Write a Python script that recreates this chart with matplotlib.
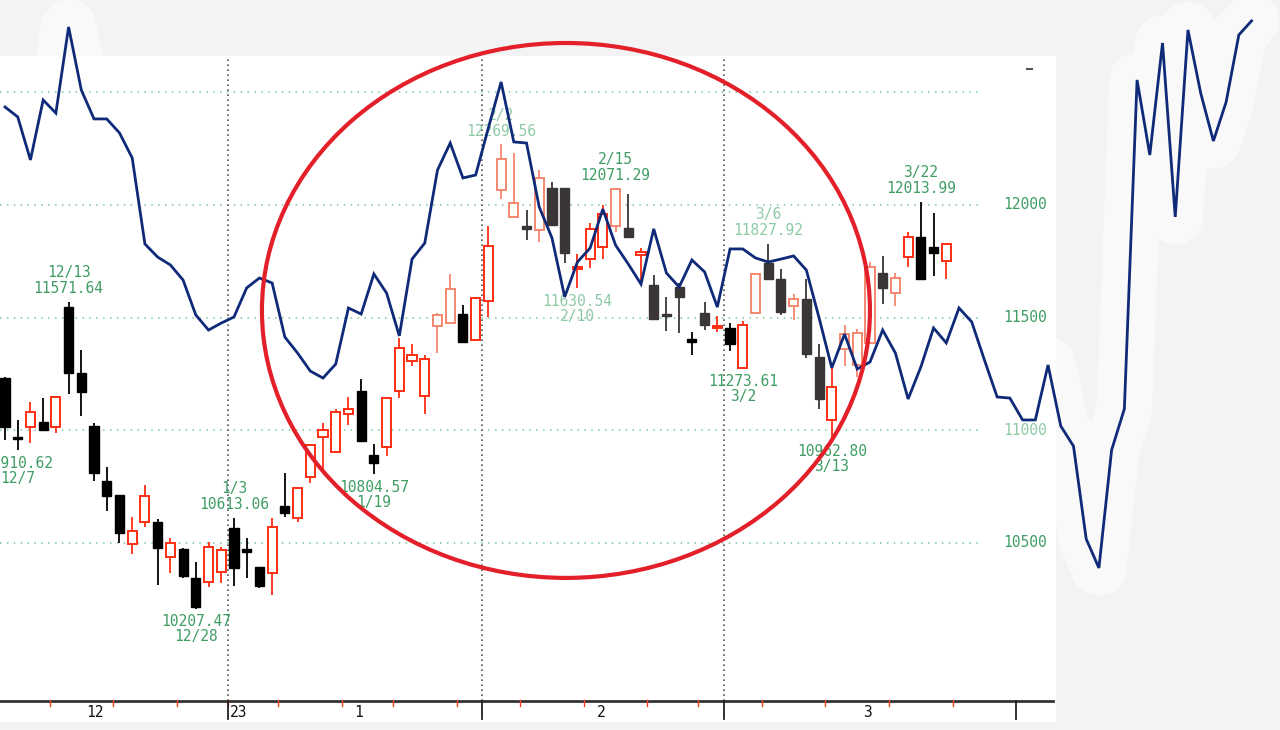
import numpy as np
import matplotlib.pyplot as plt
from matplotlib.patches import Rectangle, Ellipse

# Candles (daily OHLC), index 0 = first visible day in December
opens = [11232, 10970, 11015, 11037, 11015, 11547, 11254, 11019, 10775, 10713,
         10496, 10593, 10593, 10438, 10473, 10345, 10327, 10371, 10567, 10473,
         10394, 10367, 10664, 10611, 10793, 10970, 10904, 11073, 11175, 10891,
         10926, 11175, 11308, 11152, 11463, 11476, 11516, 11401, 11574, 12067,
         11947, 11907, 11889, 12076, 12076, 11716, 11760, 11814, 11907, 11898,
         11778, 11645, 11516, 11636, 11405, 11521, 11454, 11454, 11277, 11521,
         11743, 11672, 11552, 11583, 11326, 11046, 11361, 11290, 11388, 11698,
         11610, 11769, 11858, 11814, 11752]
highs = [11237, 11046, 11126, 11144, 11148, 11571.64, 11357, 11033, 10837, 10713,
         10615, 10757, 10607, 10522, 10478, 10416, 10504, 10482, 10613.06, 10522,
         10394, 10611, 10811, 10744, 10935, 11033, 11095, 11148, 11228, 10939,
         11148, 11410, 11383, 11334, 11521, 11694, 11556, 11587, 11907, 12269.56,
         12231, 11978, 12155, 12102, 12076, 11783, 11920, 12000, 12071.29, 12049,
         11809, 11689, 11592, 11654, 11436, 11570, 11507, 11476, 11485, 11694,
         11827.92, 11716, 11605, 11672, 11383, 11277, 11467, 11450, 11747, 11774,
         11698, 11880, 12013.99, 11965, 11831]
lows = [10957, 10910.62, 10944, 11000, 10988, 11161, 11064, 10775, 10642, 10500,
        10451, 10571, 10314, 10367, 10345, 10207.47, 10305, 10322, 10309, 10345,
        10300, 10269, 10615, 10593, 10766, 10824, 10899, 11024, 10953, 10804.57,
        10886, 11144, 11286, 11073, 11343, 11476, 11392, 11401, 11503, 12027,
        11947, 11845, 11836, 11911, 11743, 11630.54, 11720, 11760, 11880, 11858,
        11658, 11494, 11441, 11432, 11334, 11445, 11436, 11352, 11273.61, 11521,
        11672, 11512, 11490, 11321, 11095, 10962.80, 11286, 11237, 11388, 11561,
        11552, 11725, 11672, 11685, 11672]
closes = [11015, 10962, 11081, 11002, 11148, 11254, 11170, 10811, 10709, 10544,
          10553, 10709, 10478, 10500, 10354, 10216, 10482, 10469, 10389, 10460,
          10309, 10571, 10633, 10744, 10935, 11002, 11081, 11095, 10953, 10855,
          11144, 11365, 11334, 11317, 11512, 11627, 11392, 11587, 11818, 12204,
          12009, 11894, 12120, 11911, 11787, 11725, 11894, 11960, 12071, 11858,
          11791, 11494, 11507, 11592, 11392, 11467, 11463, 11383, 11467, 11694,
          11672, 11525, 11583, 11339, 11139, 11192, 11427, 11432, 11725, 11632,
          11676, 11858, 11672, 11787, 11827]

# candles that look washed out in the screenshot
faded = {34, 35, 39, 40, 42, 48, 59, 62, 66, 67, 68, 70,
         41, 43, 44, 49, 51, 52, 53, 55, 60, 61, 63, 64, 69}

# overlaid blue line (same day spacing, runs past the chart)
overlay = [12435, 12391, 12200, 12466, 12408, 12790, 12510, 12382, 12382, 12320,
           12209, 11827, 11769, 11734, 11667, 11512, 11445, 11476, 11503, 11632,
           11676, 11654, 11414, 11343, 11263, 11232, 11294, 11543, 11516, 11694,
           11609, 11419, 11760, 11831, 12155, 12275, 12120, 12133, 12342, 12546,
           12280, 12275, 11991, 11854, 11592, 11747, 11809, 11982, 11822, 11738,
           11649, 11894, 11698, 11636, 11756, 11703, 11547, 11805, 11805, 11765,
           11747, 11760, 11774, 11711, 11499, 11277, 11427, 11272, 11303, 11445,
           11343, 11139, 11281, 11454, 11388, 11543, 11481, 11312, 11148, 11143,
           11046, 11046, 11290, 11019, 10930, 10518, 10389, 10913, 11095, 12555,
           12222, 12719, 11947, 12777, 12497, 12284, 12457, 12755, 12817]

# high / low callouts
label_idx = [1, 5, 15, 18, 29, 39, 45, 48, 58, 60, 65, 72]
label_date = ["12/7", "12/13", "12/28", "1/3", "1/19", "2/2", "2/10", "2/15",
              "3/2", "3/6", "3/13", "3/22"]
label_kind = ["low", "high", "low", "high", "low", "high", "low", "high",
              "low", "high", "low", "high"]
light_labels = {"2/2", "2/10", "3/6"}

price_ticks = [10500, 11000, 11500, 12000]
grid_levels = [10500, 11000, 11500, 12000, 12500]
month_bounds = [17.5, 37.5, 56.5, 79.5]
week_ticks = [3.5, 8.5, 13.5, 17.5, 21.5, 26.5, 30.5, 35.5, 40.5, 45.5,
              50.5, 54.5, 59.5, 64.5, 69.5, 74.5]
month_labels = ["12", "1", "2", "3"]
month_pos = [7.1, 27.8, 46.9, 67.8]

# figure geometry: 1280x730 px, candle i sits at 5 + 12.72*i px
W, H = 1280, 730
X0, DX = 5.0, 12.72
PTOP, PBOT = 12909.8, 9670.0

fig = plt.figure(figsize=(W / 100, H / 100), dpi=100, facecolor="#f3f3f3")
ax = fig.add_axes([0, 0, 1, 1])
ax.set_xlim(-X0 / DX, (W - X0) / DX)
ax.set_ylim(PBOT, PTOP)
ax.axis("off")

font = "DejaVu Sans Mono"
green = "#3f9d64"
light_green = "#8fcaa6"

idx = np.arange(len(opens))
oidx = np.arange(len(overlay))

# faint lighter halo around the blue line outside the panel
ax.plot(oidx, overlay, color="#f9f9f9", lw=40, solid_capstyle="round",
        solid_joinstyle="round", zorder=0.5)

# white chart panel
ax.add_patch(Rectangle((0, 8 / H), 1056 / W, (722 - 56) / H, transform=ax.transAxes,
                       facecolor="white", edgecolor="none", zorder=1))

# dotted price grid
for lv in grid_levels:
    ax.plot([0, 980 / W], [(lv - PBOT) / (PTOP - PBOT)] * 2, transform=ax.transAxes,
            color="#7cc49a", lw=1.1, ls=(0, (1, 3.5)), zorder=2)

# month separators
for b in month_bounds[:3]:
    ax.plot([b, b], [PBOT + (H - 701) * 4.438, PBOT + (H - 57) * 4.438],
            color="#555555", lw=1.2, ls=(0, (1, 2)), zorder=2)

# candles
for i in idx:
    o, h, l, c = opens[i], highs[i], lows[i], closes[i]
    if c >= o:
        col = "#f4876f" if i in faded else "#ff2d12"
        ax.vlines(i, l, h, color=col, lw=1.3, zorder=3)
        ax.bar(i, max(c - o, 8), bottom=o, width=0.72, facecolor="white",
               edgecolor=col, lw=1.4, zorder=4)
    else:
        col = "#3b3636" if i in faded else "black"
        ax.vlines(i, l, h, color=col, lw=1.3, zorder=3)
        ax.bar(i, max(o - c, 8), bottom=c, width=0.72, facecolor=col,
               edgecolor=col, lw=1.0, zorder=4)

# callouts
for i, d, k in zip(label_idx, label_date, label_kind):
    col = light_green if d in light_labels else green
    if k == "high":
        v = highs[i]
        ax.annotate(f"{v:.2f}", (i, v), xytext=(0, 13), textcoords="offset pixels",
                    ha="center", va="center", color=col, fontsize=10.5, family=font, zorder=5)
        ax.annotate(d, (i, v), xytext=(0, 29), textcoords="offset pixels",
                    ha="center", va="center", color=col, fontsize=10.5, family=font, zorder=5)
    else:
        v = lows[i]
        ax.annotate(f"{v:.2f}", (i, v), xytext=(0, -13), textcoords="offset pixels",
                    ha="center", va="center", color=col, fontsize=10.5, family=font, zorder=5)
        ax.annotate(d, (i, v), xytext=(0, -28), textcoords="offset pixels",
                    ha="center", va="center", color=col, fontsize=10.5, family=font, zorder=5)

# right price labels
for p in price_ticks:
    col = light_green if p == 11000 else green
    ax.text((1025 - X0) / DX, p, f"{p}", ha="center", va="center", color=col,
            fontsize=10.5, family=font, zorder=5)

# bottom time axis
yax = (H - 701) / H
ax.plot([0, 1053 / W], [yax, yax], transform=ax.transAxes, color="#333333", lw=2, zorder=5)
ybase = PBOT + (H - 701) * 4.438
for w in week_ticks:
    ax.plot([w, w], [ybase + 4, ybase - 22], color="#ff3b1f", lw=1, zorder=6)
for b in month_bounds:
    ax.plot([b, b], [ybase, ybase - 80], color="#222222", lw=1.3, zorder=6)
for lab, pos in zip(month_labels, month_pos):
    ax.text(pos, PBOT + (H - 712) * 4.438, lab, ha="center", va="center",
            fontsize=10.5, family=font, color="#111111", zorder=6)
ax.text(month_bounds[0] + 0.15, PBOT + (H - 712) * 4.438, "23", ha="left", va="center",
        fontsize=10.5, family=font, color="#111111", zorder=6)
ax.plot([1027 / W, 1032 / W], [1 - 69 / H, 1 - 69 / H], transform=ax.transAxes,
        color="#555555", lw=1.5, zorder=6)

# overlaid blue series
ax.plot(oidx, overlay, color="#0e2a78", lw=2.0, solid_joinstyle="miter", zorder=7)

# red circle mark
ax.add_patch(Ellipse((44.1, 11532), width=47.8, height=2374, fill=False,
                     edgecolor="#e3202a", lw=3, zorder=8))

fig.savefig("out.png", dpi=100, facecolor=fig.get_facecolor())
